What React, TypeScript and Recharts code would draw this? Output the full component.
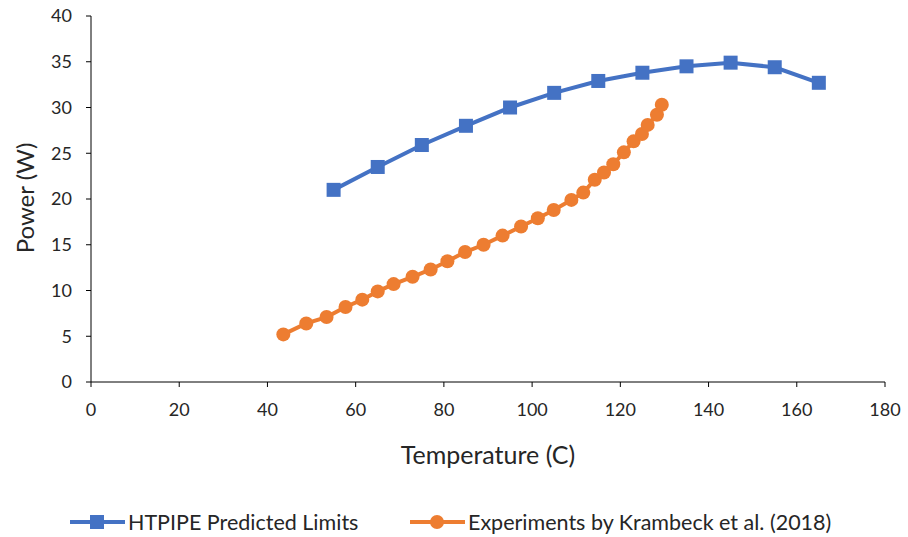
import React from 'react';
import { LineChart, Line, XAxis, YAxis, Legend } from 'recharts';

const htpipeTemps = [55, 65, 75, 85, 95, 105, 115, 125, 135, 145, 155, 165];
const htpipePower = [21.0, 23.5, 25.9, 28.0, 30.0, 31.6, 32.9, 33.8, 34.5, 34.9, 34.4, 32.7];

const expTemps = [43.6, 48.8, 53.4, 57.7, 61.5, 65.0, 68.6, 72.9, 77.0, 80.8, 84.8, 89.0, 93.3, 97.5, 101.3, 104.9, 108.9, 111.6, 114.2, 116.3, 118.4, 120.8, 123.0, 124.9, 126.2, 128.3, 129.4];
const expPower = [5.2, 6.4, 7.1, 8.2, 9.0, 9.9, 10.7, 11.5, 12.3, 13.2, 14.2, 15.0, 16.0, 17.0, 17.9, 18.8, 19.9, 20.7, 22.1, 22.9, 23.8, 25.1, 26.3, 27.1, 28.1, 29.2, 30.3];

const xTicks = [0, 20, 40, 60, 80, 100, 120, 140, 160, 180];
const yTicks = [0, 5, 10, 15, 20, 25, 30, 35, 40];

const seriesNames = ['HTPIPE Predicted Limits', 'Experiments by Krambeck et al. (2018)'];

const BLUE = '#4472C4';
const ORANGE = '#ED7D31';
const FONT = 'Lato, "Open Sans", sans-serif';
const TEXT = '#262626';

const htpipeData = htpipeTemps.map((t, i) => ({ t, p: htpipePower[i] }));
const expData = expTemps.map((t, i) => ({ t, p: expPower[i] }));

const SquareDot = (props: any) => {
  const { cx, cy, index } = props;
  if (cx == null || cy == null) return null;
  return <rect key={`sq-${index}`} x={cx - 7} y={cy - 7} width={14} height={14} fill={BLUE} />;
};

const CircleDot = (props: any) => {
  const { cx, cy, index } = props;
  if (cx == null || cy == null) return null;
  return <circle key={`ci-${index}`} cx={cx} cy={cy} r={7} fill={ORANGE} />;
};

const LegendContent = () => (
  <svg width={908} height={30} style={{ display: 'block' }}>
    <g>
      <line x1={70} x2={125} y1={15} y2={15} stroke={BLUE} strokeWidth={4} />
      <rect x={90} y={8} width={14} height={14} fill={BLUE} />
      <text x={128} y={15} dominantBaseline="central" fontFamily={FONT} fontSize={21.5} fill={TEXT}>
        {seriesNames[0]}
      </text>
    </g>
    <g>
      <line x1={410} x2={465} y1={15} y2={15} stroke={ORANGE} strokeWidth={4} />
      <circle cx={437} cy={15} r={7} fill={ORANGE} />
      <text x={468} y={15} dominantBaseline="central" fontFamily={FONT} fontSize={21.5} fill={TEXT}>
        {seriesNames[1]}
      </text>
    </g>
  </svg>
);

const XLabel = (props: any) => {
  const vb = props.viewBox || {};
  return (
    <text x={488} y={vb.y + 72} textAnchor="middle" dominantBaseline="central" fontFamily={FONT} fontSize={25} fill={TEXT}>
      Temperature (C)
    </text>
  );
};

const YLabel = (props: any) => {
  const cx = 24;
  const cy = 198;
  return (
    <text x={cx} y={cy} transform={`rotate(-90, ${cx}, ${cy})`} textAnchor="middle" dominantBaseline="central" fontFamily={FONT} fontSize={24} fill={TEXT}>
      Power (W)
    </text>
  );
};

export default function App() {
  return (
    <div style={{ position: 'absolute', left: 0, top: 0, width: 908, height: 537, background: '#fff' }}>
      <LineChart width={908} height={537} margin={{ top: 16, right: 23, bottom: 0, left: 0 }}>
        <XAxis
          type="number"
          dataKey="t"
          domain={[0, 180]}
          ticks={xTicks}
          allowDataOverflow
          height={125}
          tickSize={5}
          tickMargin={16}
          stroke="#000"
          tick={{ fill: TEXT, fontSize: 18, fontFamily: FONT }}
          label={<XLabel />}
        />
        <YAxis
          type="number"
          dataKey="p"
          domain={[0, 40]}
          ticks={yTicks}
          width={91}
          tickSize={5}
          tickMargin={14}
          stroke="#000"
          tick={{ fill: TEXT, fontSize: 18, fontFamily: FONT }}
          label={<YLabel />}
        />
        <Legend verticalAlign="bottom" height={30} content={<LegendContent />} />
        <Line
          data={htpipeData}
          dataKey="p"
          name={seriesNames[0]}
          stroke={BLUE}
          strokeWidth={4}
          dot={<SquareDot />}
          activeDot={false}
          isAnimationActive={false}
        />
        <Line
          data={expData}
          dataKey="p"
          name={seriesNames[1]}
          stroke={ORANGE}
          strokeWidth={4}
          dot={<CircleDot />}
          activeDot={false}
          isAnimationActive={false}
        />
      </LineChart>
    </div>
  );
}
